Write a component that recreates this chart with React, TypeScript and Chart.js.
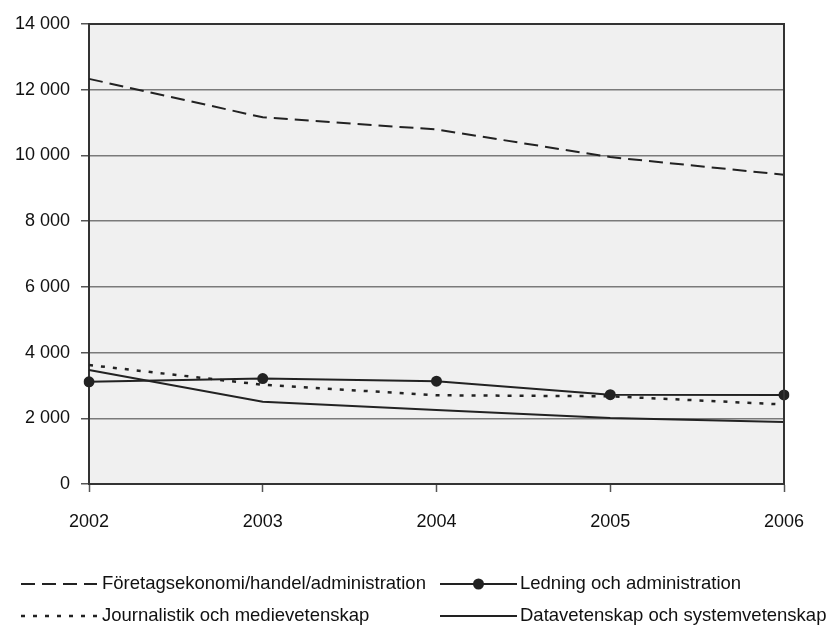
import React, { useEffect, useRef } from "react";
import { Chart, registerables } from "chart.js";

Chart.register(...registerables);

const years = ["2002", "2003", "2004", "2005", "2006"];
const foretagsekonomi = [12330, 11160, 10790, 9950, 9410];
const ledning = [3110, 3210, 3130, 2720, 2710];
const journalistik = [3620, 3020, 2700, 2670, 2420];
const datavetenskap = [3470, 2500, 2250, 2010, 1890];
const seriesNames = [
  "Företagsekonomi/handel/administration",
  "Ledning och administration",
  "Journalistik och medievetenskap",
  "Datavetenskap och systemvetenskap",
];

const FONT = "'Liberation Sans', Arial, Helvetica, sans-serif";
const INK = "#222222";

function fmt(v: number): string {
  return String(v).replace(/\B(?=(\d{3})+(?!\d))/g, " ");
}

const plotBg = {
  id: "plotBg",
  beforeDraw(chart: any) {
    const { ctx, chartArea } = chart;
    ctx.save();
    ctx.fillStyle = "#f0f0f0";
    ctx.fillRect(chartArea.left, chartArea.top, chartArea.right - chartArea.left, chartArea.bottom - chartArea.top);
    ctx.restore();
  },
  afterDatasetsDraw(chart: any) {
    const { ctx, chartArea } = chart;
    ctx.save();
    ctx.strokeStyle = "#333333";
    ctx.lineWidth = 2;
    ctx.beginPath();
    ctx.moveTo(chartArea.left, chartArea.top);
    ctx.lineTo(chartArea.right, chartArea.top);
    ctx.lineTo(chartArea.right, chartArea.bottom);
    ctx.stroke();
    ctx.restore();
  },
};

// legend layout: [sampleStart, sampleEnd, textX, y] per dataset
const legendSlots = [
  [21, 97, 102, 584],
  [440, 517, 520, 584],
  [21, 97, 102, 616],
  [440, 517, 520, 616],
];

const customLegend = {
  id: "customLegend",
  afterDraw(chart: any) {
    const { ctx } = chart;
    ctx.save();
    chart.data.datasets.forEach((ds: any, i: number) => {
      const [x0, x1, tx, y] = legendSlots[i];
      ctx.strokeStyle = ds.borderColor;
      ctx.lineWidth = ds.borderWidth;
      ctx.setLineDash(ds.borderDash || []);
      ctx.beginPath();
      ctx.moveTo(x0, y);
      ctx.lineTo(x1, y);
      ctx.stroke();
      ctx.setLineDash([]);
      if (ds.pointRadius > 0) {
        ctx.fillStyle = ds.pointBackgroundColor;
        ctx.beginPath();
        ctx.arc((x0 + x1) / 2, y, 5.5, 0, Math.PI * 2);
        ctx.fill();
      }
      ctx.fillStyle = "#111111";
      ctx.font = `18.5px ${FONT}`;
      ctx.textBaseline = "middle";
      ctx.textAlign = "left";
      ctx.fillText(ds.label, tx, y);
    });
    ctx.restore();
  },
};

export default function App() {
  const ref = useRef<HTMLCanvasElement | null>(null);

  useEffect(() => {
    if (!ref.current) return;
    const chart = new Chart(ref.current, {
      type: "line",
      data: {
        labels: years,
        datasets: [
          {
            label: seriesNames[0],
            data: foretagsekonomi,
            borderColor: INK,
            borderWidth: 2,
            borderDash: [14, 7],
            pointRadius: 0,
            tension: 0,
          },
          {
            label: seriesNames[1],
            data: ledning,
            borderColor: INK,
            borderWidth: 2,
            pointRadius: 5.5,
            pointBackgroundColor: INK,
            pointBorderColor: INK,
            pointBorderWidth: 0,
            tension: 0,
          },
          {
            label: seriesNames[2],
            data: journalistik,
            borderColor: INK,
            borderWidth: 2.5,
            borderDash: [4, 8],
            pointRadius: 0,
            tension: 0,
          },
          {
            label: seriesNames[3],
            data: datavetenskap,
            borderColor: INK,
            borderWidth: 2,
            pointRadius: 0,
            tension: 0,
          },
        ],
      },
      options: {
        animation: false,
        responsive: false,
        devicePixelRatio: 1,
        layout: { padding: { left: 0, top: 24, right: 50, bottom: 97 } },
        plugins: {
          legend: { display: false },
          tooltip: { enabled: false },
        },
        scales: {
          x: {
            offset: false,
            afterFit: (s: any) => {
              s.height = 50;
            },
            grid: {
              drawOnChartArea: false,
              drawTicks: true,
              tickLength: 8,
              tickColor: "#555555",
              tickWidth: 1.5,
            },
            border: { color: "#333333", width: 2 },
            ticks: {
              color: "#111111",
              font: { family: FONT, size: 18 },
              padding: 19,
              maxRotation: 0,
            },
          },
          y: {
            min: 0,
            max: 14000,
            afterFit: (s: any) => {
              s.width = 89;
            },
            grid: {
              color: "#7a7a7a",
              lineWidth: 1.5,
              drawTicks: true,
              tickLength: 8,
              tickColor: "#555555",
              tickWidth: 1.5,
            },
            border: { color: "#333333", width: 2 },
            ticks: {
              stepSize: 2000,
              color: "#111111",
              font: { family: FONT, size: 18 },
              padding: 11,
              callback: (v: any) => fmt(Number(v)),
            },
          },
        },
      },
      plugins: [plotBg, customLegend],
    });
    return () => chart.destroy();
  }, []);

  return (
    <div style={{ position: "absolute", left: 0, top: 0, width: 834, height: 631, background: "#ffffff" }}>
      <canvas ref={ref} width={834} height={631} style={{ width: 834, height: 631, display: "block" }} />
    </div>
  );
}
